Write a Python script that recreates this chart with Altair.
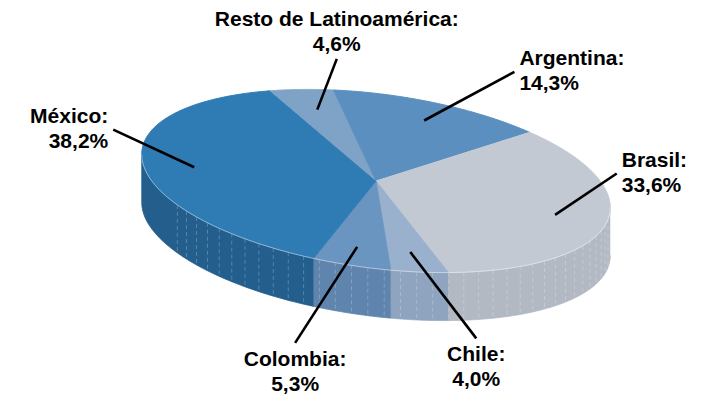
import math
import altair as alt
import pandas as pd

# ---------------- data ----------------
countries = ["Resto de Latinoamérica", "Argentina", "Brasil", "Chile", "Colombia", "México"]
shares = [4.6, 14.3, 33.6, 4.0, 5.3, 38.2]
share_text = ["4,6%", "14,3%", "33,6%", "4,0%", "5,3%", "38,2%"]
top_colors = ["#7FA3C7", "#5A8FC0", "#C3C9D3", "#9AB1CD", "#6A95C1", "#2F7CB5"]
side_colors = ["#6F91B6", "#4E7DAA", "#B3B9C3", "#8EA4BF", "#5F84AD", "#235E8D"]

# ---------------- layout ----------------
W, H = 708, 395
CX, CY = 376, 181          # centre of the top face
RA, RB = 236, 87           # semi-axes of the top face
ROT = math.radians(7.5)    # tilt of the ellipse
CR, SR = math.cos(ROT), math.sin(ROT)
DEPTH = 48                 # thickness of the pie
START = -29.8              # first slice start angle (deg, clockwise from top)
V0 = math.degrees(math.atan2(RA * CR, RB * SR))   # visible side wall range
V1 = V0 + 180
LA, LCY, LB, LBT, LBB = 265, 140, 80, 82, 170      # label ring
GAP = 40
SHIFT_SIDE, SHIFT_BOTTOM = 16, 3
FONT = "Liberation Sans"
FS, LH = 21, 25

df = pd.DataFrame({"idx": list(range(len(countries))), "country": countries,
                   "share": shares, "pct": share_text})


def px_expr(r, phi):
    return f"{CX} + ({r})*({RA}*sin({phi})*{CR} + {RB}*cos({phi})*{SR})"


def py_expr(r, phi):
    return f"{CY} + ({r})*({RA}*sin({phi})*{SR} - {RB}*cos({phi})*{CR})"


xs = alt.X("px:Q", scale=alt.Scale(domain=[0, W], nice=False, zero=False), axis=None)
ys = alt.Y("py:Q", scale=alt.Scale(domain=[0, H], nice=False, zero=False, reverse=True), axis=None)
top_scale = alt.Scale(domain=countries, range=top_colors)
side_scale = alt.Scale(domain=countries, range=side_colors)

base = (
    alt.Chart(df)
    .transform_joinaggregate(total="sum(share)")
    .transform_window(cum="sum(share)", sort=[alt.SortField("idx")], frame=[None, 0])
    .transform_calculate(
        a0=f"{START} + 360*(datum.cum - datum.share)/datum.total",
        a1=f"{START} + 360*datum.cum/datum.total",
    )
    .transform_calculate(mid="(datum.a0 + datum.a1)/2")
)

# side wall: closed polygon (top edge forward, bottom edge back)
side = (
    base.transform_calculate(lo=f"max(datum.a0, {V0})", hi=f"min(datum.a1, {V1})")
    .transform_filter("datum.lo < datum.hi")
    .transform_calculate(k="sequence(0, 122)")
    .transform_flatten(["k"])
    .transform_calculate(j="datum.k <= 60 ? datum.k : 121 - datum.k",
                         dz=f"datum.k <= 60 ? 0 : {DEPTH}")
    .transform_calculate(phi="(datum.lo + (datum.hi - datum.lo)*datum.j/60)*PI/180")
    .transform_calculate(px=px_expr(1, "datum.phi"),
                         py=py_expr(1, "datum.phi") + " + datum.dz")
    .mark_line(filled=True, strokeWidth=0.8, interpolate="linear")
    .encode(x=xs, y=ys,
            fill=alt.Fill("country:N", scale=side_scale, legend=None),
            stroke=alt.Stroke("country:N", scale=side_scale, legend=None),
            order=alt.Order("k:Q"), detail="country:N")
)

# faint facet lines on the side wall
facets = (
    alt.Chart(alt.sequence(V0 + 8, 236, 4, as_="deg"))
    .transform_calculate(phi="datum.deg*PI/180")
    .transform_calculate(px=px_expr(1, "datum.phi"), py=py_expr(1, "datum.phi"))
    .transform_calculate(py2=f"datum.py + {DEPTH} - 2")
    .mark_rule(color="white", opacity=0.3, strokeWidth=0.8, strokeDash=[4, 3])
    .encode(x=xs, y=ys, y2="py2:Q")
)

# top face
top = (
    base.transform_calculate(k="sequence(-1, 121)")
    .transform_flatten(["k"])
    .transform_calculate(phi="(datum.a0 + (datum.a1 - datum.a0)*max(datum.k, 0)/120)*PI/180",
                         r="datum.k < 0 ? 0 : 1")
    .transform_calculate(px=px_expr("datum.r", "datum.phi"), py=py_expr("datum.r", "datum.phi"))
    .mark_line(filled=True, strokeWidth=1, interpolate="linear")
    .encode(x=xs, y=ys,
            fill=alt.Fill("country:N", scale=top_scale, legend=None),
            stroke=alt.Stroke("country:N", scale=top_scale, legend=None),
            order=alt.Order("k:Q"), detail="country:N")
)

# light rim on the front edge of the top face
rim = (
    alt.Chart(alt.sequence(V0, V1 + 0.5, 1, as_="deg"))
    .transform_calculate(phi="datum.deg*PI/180")
    .transform_calculate(px=px_expr(1, "datum.phi"), py=py_expr(1, "datum.phi"))
    .mark_line(color="white", opacity=0.45, strokeWidth=1)
    .encode(x=xs, y=ys, order=alt.Order("deg:Q"))
)

# labels: mid angle, spread apart where neighbours are too close
lab = (
    base.transform_window(prev="lag(mid)", nxt="lead(mid)", sort=[alt.SortField("idx")])
    .transform_calculate(gp="datum.prev == null ? 999 : datum.mid - datum.prev",
                         gn="datum.nxt == null ? 999 : datum.nxt - datum.mid")
    .transform_calculate(psi0=f"datum.mid + max(0, ({GAP} - datum.gp)/2) - max(0, ({GAP} - datum.gn)/2)",
                         m="datum.mid*PI/180")
    .transform_calculate(bottom="cos(datum.psi0*PI/180) < -0.8")
    .transform_calculate(psi=f"(datum.psi0 + (datum.bottom ? {SHIFT_BOTTOM} : {SHIFT_SIDE}))*PI/180")
    .transform_calculate(side="datum.bottom ? 'bottom' : (cos(datum.psi) > 0.94 ? 'top' : (sin(datum.psi) >= 0 ? 'right' : 'left'))")
    .transform_calculate(
        px=px_expr(0.78, "datum.m"), py=py_expr(0.78, "datum.m"),
        ax=f"{CX} + {LA}*sin(datum.psi)",
        ay=f"datum.side == 'bottom' ? {CY} - {LBB}*cos(datum.psi) : "
           f"(datum.side == 'top' ? {LCY} - {LBT}*cos(datum.psi) : {LCY} - {LB}*cos(datum.psi))",
        label="[datum.country + ':', datum.pct]",
    )
)

leaders = lab.mark_rule(color="black", strokeWidth=2.6).encode(
    x=xs, y=ys, x2="ax:Q", y2="ay:Q")

tx = alt.X("ax:Q", scale=alt.Scale(domain=[0, W], nice=False, zero=False), axis=None)
ty = alt.Y("ay:Q", scale=alt.Scale(domain=[0, H], nice=False, zero=False, reverse=True), axis=None)
text_style = dict(font=FONT, fontSize=FS, fontWeight="bold", color="black", lineHeight=LH)

text_r = lab.transform_filter("datum.side == 'right'").mark_text(
    align="left", baseline="middle", dx=5, dy=-LH / 2, **text_style).encode(x=tx, y=ty, text="label:N")
text_l = lab.transform_filter("datum.side == 'left'").mark_text(
    align="right", baseline="middle", dx=-5, dy=-LH / 2, **text_style).encode(x=tx, y=ty, text="label:N")
text_b = lab.transform_filter("datum.side == 'bottom'").mark_text(
    align="center", baseline="top", dy=6, **text_style).encode(x=tx, y=ty, text="label:N")
text_t = lab.transform_filter("datum.side == 'top'").mark_text(
    align="center", baseline="bottom", dy=-4 - LH, **text_style).encode(x=tx, y=ty, text="label:N")

chart = (
    alt.layer(side, facets, top, rim, leaders, text_r, text_l, text_b, text_t)
    .resolve_scale(fill="independent", stroke="independent")
    .properties(width=W, height=H, padding=0,
                autosize=alt.AutoSizeParams(type="fit", contains="padding"))
    .configure_view(stroke=None)
)

chart.save("out.html", embed_options={"renderer": "svg", "actions": False})
